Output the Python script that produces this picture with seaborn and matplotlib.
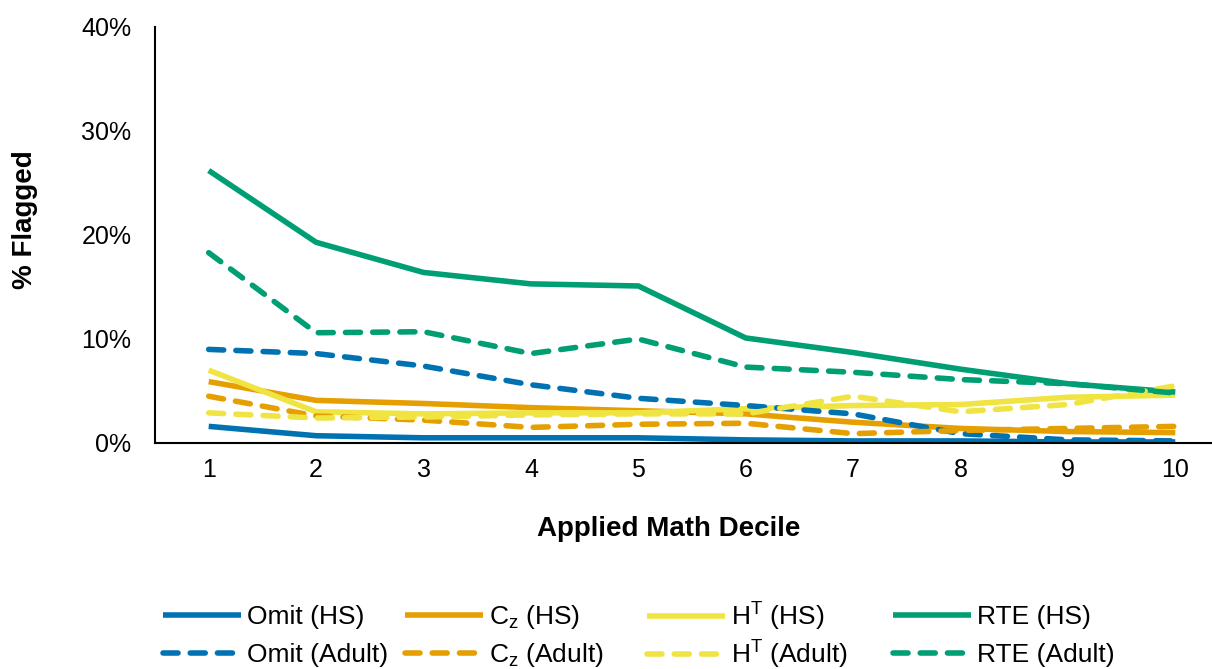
#importing libraries
import seaborn as sns
import matplotlib.pyplot as plt
import pandas as pd
import numpy as np

##data (percent flagged per decile)
deciles = [1, 2, 3, 4, 5, 6, 7, 8, 9, 10]

omit_hs = [1.6, 0.7, 0.5, 0.5, 0.5, 0.3, 0.2, 0.2, 0.1, 0.1]
cz_hs = [5.9, 4.1, 3.8, 3.4, 3.1, 2.8, 2.0, 1.4, 1.1, 1.0]
ht_hs = [7.0, 3.0, 2.8, 2.9, 2.9, 3.3, 3.6, 3.7, 4.4, 4.6]
rte_hs = [26.2, 19.3, 16.4, 15.3, 15.1, 10.1, 8.7, 7.1, 5.7, 4.9]

omit_adult = [9.0, 8.6, 7.4, 5.6, 4.3, 3.6, 2.8, 0.9, 0.3, 0.2]
cz_adult = [4.5, 2.6, 2.2, 1.5, 1.8, 1.9, 0.9, 1.2, 1.4, 1.6]
ht_adult = [2.9, 2.4, 2.5, 2.7, 2.8, 2.8, 4.5, 3.0, 3.7, 5.5]
rte_adult = [18.3, 10.6, 10.7, 8.6, 10.0, 7.3, 6.8, 6.1, 5.7, 4.8]

y_ticks = [0, 10, 20, 30, 40]
y_tick_labels = ["0%", "10%", "20%", "30%", "40%"]

##series setup: name, values, color, dashed
series = [
    ("Omit (HS)", omit_hs, "#0072B2", False),
    ("$\\mathregular{C_z}$ (HS)", cz_hs, "#E69F00", False),
    ("$\\mathregular{H^T}$ (HS)", ht_hs, "#F0E442", False),
    ("RTE (HS)", rte_hs, "#009E73", False),
    ("Omit (Adult)", omit_adult, "#0072B2", True),
    ("$\\mathregular{C_z}$ (Adult)", cz_adult, "#E69F00", True),
    ("$\\mathregular{H^T}$ (Adult)", ht_adult, "#F0E442", True),
    ("RTE (Adult)", rte_adult, "#009E73", True),
]

sns.set_style("white")
plt.rcParams["font.family"] = ["Liberation Sans", "DejaVu Sans"]
plt.rcParams["text.color"] = "black"
plt.rcParams["axes.labelcolor"] = "black"
plt.rcParams["xtick.color"] = "black"
plt.rcParams["ytick.color"] = "black"

fig = plt.figure(figsize=(12.12, 6.69), dpi=100)
ax = fig.add_axes([155 / 1212, 226 / 669, (1229 - 155) / 1212, 416 / 669])

handles = []
for name, vals, color, dashed in series:
    df = pd.DataFrame({"decile": deciles, "pct": vals})
    sns.lineplot(ax=ax, data=df, x="decile", y="pct", color=color, linewidth=4.0,
                 legend=False)
    line = ax.lines[-1]
    if dashed:
        line.set_dashes((2.7, 2.2))
        line.set_dash_capstyle("round")
    else:
        line.set_solid_capstyle("butt")
    line.set_label(name)
    handles.append(line)

ax.set_xlim(0.5, 10.5)
ax.set_ylim(0, 40)
ax.set_xticks(deciles)
ax.set_xticklabels([str(d) for d in deciles], fontsize=18)
ax.set_yticks(y_ticks)
ax.set_yticklabels(y_tick_labels, fontsize=18)
ax.tick_params(axis="x", length=0, pad=11)
ax.tick_params(axis="y", length=0, pad=17)

ax.set_xlabel("Applied Math Decile", fontsize=20, fontweight="bold")
ax.set_ylabel("% Flagged", fontsize=20, fontweight="bold")
ax.xaxis.set_label_coords(0.478, -0.207)
ax.yaxis.set_label_coords(-0.121, 0.538)
ax.xaxis.label.set_va("center")
ax.yaxis.label.set_va("center")

sns.despine(ax=ax)
for side in ["left", "bottom"]:
    ax.spines[side].set_color("black")
    ax.spines[side].set_linewidth(1.5)

##legend below chart: 4 equal columns x 2 rows
col_x = [163, 405, 647, 893]
row_y = [617, 655]
for i, h in enumerate(handles):
    row, col = divmod(i, 4)
    fig.legend([h], [h.get_label()], loc="center left",
               bbox_to_anchor=(col_x[col] / 1212, 1 - row_y[row] / 669),
               frameon=False, fontsize=19, handlelength=2.95,
               handletextpad=0.25, borderpad=0, borderaxespad=0)

fig.savefig("out.png", dpi=100)
